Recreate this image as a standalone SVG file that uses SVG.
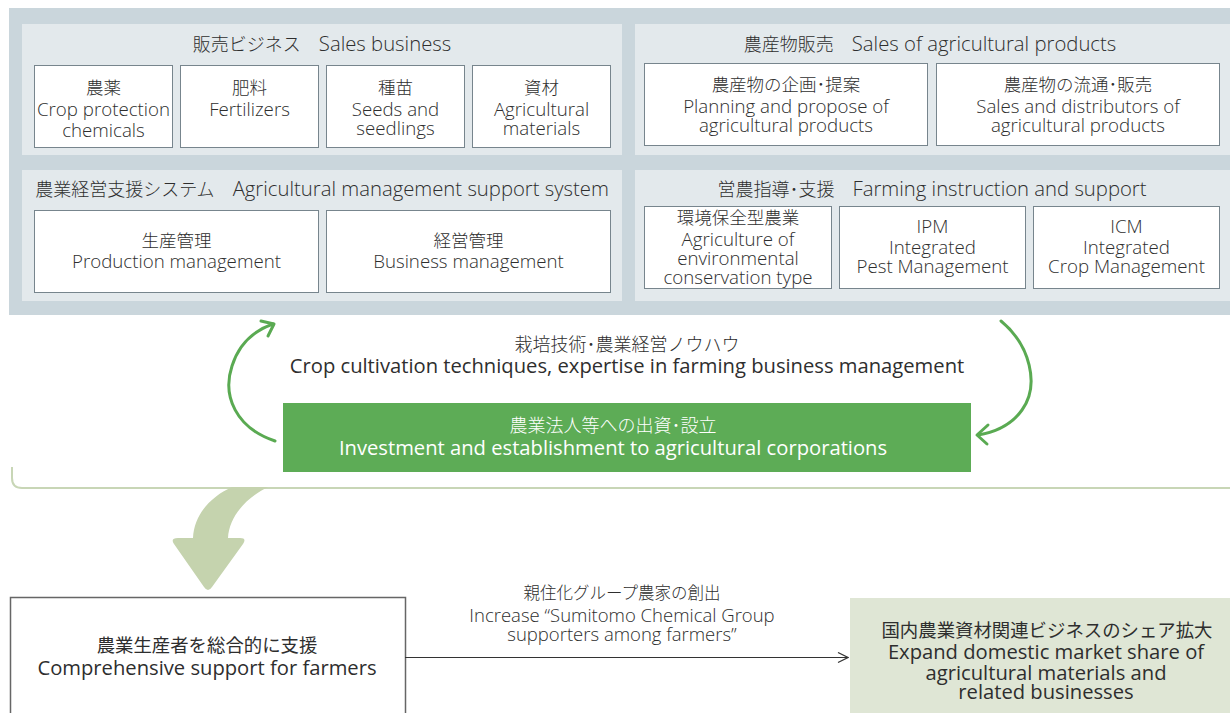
<svg xmlns="http://www.w3.org/2000/svg" width="1230" height="713" viewBox="0 0 1230 713">
<defs>
<style>
text{font-family:"Open Sans","Noto Sans CJK JP",sans-serif;fill:#2e2e2e;text-anchor:middle;font-weight:300}
.tj{font-size:18px}
.te{font-size:20.3px}
.bj{font-size:17.5px}
.be{font-size:18.7px}
.mj{font-size:18.4px;font-weight:400}
.me{font-size:20.2px;font-weight:400}
.kj{font-size:18px}
.sj{font-size:16.5px}
.se{font-size:18.5px}
.w{fill:#ffffff}
.panel{fill:#e3e9ec}
.box{fill:#ffffff;stroke:#77858d;stroke-width:1}
.garc{fill:none;stroke:#5aaa52;stroke-width:3;stroke-linecap:round;stroke-linejoin:round}
</style>
<marker id="open" viewBox="0 0 12 12" refX="11" refY="6" markerWidth="12" markerHeight="12" markerUnits="userSpaceOnUse" orient="auto">
<path d="M1,1 L11,6 L1,11" fill="none" stroke="#333" stroke-width="1.2"/>
</marker>
</defs>
<rect x="0" y="0" width="1230" height="713" fill="#ffffff"/>
<rect x="9" y="8" width="1221" height="307" fill="#cad6dc"/>

<g id="sales-business">
<rect class="panel" x="22" y="24" width="600" height="131"/>
<text x="322" y="51"><tspan class="tj">販売ビジネス　</tspan><tspan class="te">Sales business</tspan></text>
</g>
<g id="crop-protection">
<rect class="box" x="34.5" y="65.5" width="138" height="82"/>
<text class="bj" x="103.5" y="94">農薬</text>
<text class="be" x="103.5" y="116">Crop protection</text>
<text class="be" x="103.5" y="137">chemicals</text>
</g>
<g id="fertilizers">
<rect class="box" x="180.5" y="65.5" width="138" height="82"/>
<text class="bj" x="249.5" y="94">肥料</text>
<text class="be" x="249.5" y="116">Fertilizers</text>
</g>
<g id="seeds">
<rect class="box" x="326.5" y="65.5" width="138" height="82"/>
<text class="bj" x="395.5" y="94">種苗</text>
<text class="be" x="395.5" y="116">Seeds and</text>
<text class="be" x="395.5" y="135">seedlings</text>
</g>
<g id="materials">
<rect class="box" x="472.5" y="65.5" width="138" height="82"/>
<text class="bj" x="541.5" y="94">資材</text>
<text class="be" x="541.5" y="116">Agricultural</text>
<text class="be" x="541.5" y="135">materials</text>
</g>

<g id="sales-agri-products">
<rect class="panel" x="635" y="24" width="595" height="131"/>
<text x="930" y="51"><tspan class="tj">農産物販売　</tspan><tspan class="te">Sales of agricultural products</tspan></text>
</g>
<g id="planning">
<rect class="box" x="644.5" y="63.5" width="283" height="82"/>
<text class="bj" x="786" y="91">農産物の企画･提案</text>
<text class="be" x="786" y="113">Planning and propose of</text>
<text class="be" x="786" y="132">agricultural products</text>
</g>
<g id="distribution">
<rect class="box" x="936.5" y="63.5" width="283" height="82"/>
<text class="bj" x="1078" y="91">農産物の流通･販売</text>
<text class="be" x="1078" y="113">Sales and distributors of</text>
<text class="be" x="1078" y="132">agricultural products</text>
</g>

<g id="mgmt-support">
<rect class="panel" x="22" y="170" width="600" height="131"/>
<text x="322" y="196"><tspan class="tj">農業経営支援システム　</tspan><tspan class="te">Agricultural management support system</tspan></text>
</g>
<g id="production-mgmt">
<rect class="box" x="34.5" y="210.5" width="284" height="82"/>
<text class="bj" x="176.5" y="247">生産管理</text>
<text class="be" x="176.5" y="268">Production management</text>
</g>
<g id="business-mgmt">
<rect class="box" x="326.5" y="210.5" width="284" height="82"/>
<text class="bj" x="468.5" y="247">経営管理</text>
<text class="be" x="468.5" y="268">Business management</text>
</g>

<g id="farming-instruction">
<rect class="panel" x="635" y="170" width="595" height="131"/>
<text x="932" y="196"><tspan class="tj">営農指導･支援　</tspan><tspan class="te">Farming instruction and support</tspan></text>
</g>
<g id="env-agri">
<rect class="box" x="644.5" y="206.5" width="187" height="82"/>
<text class="bj" x="738" y="224">環境保全型農業</text>
<text class="be" x="738" y="246">Agriculture of</text>
<text class="be" x="738" y="265">environmental</text>
<text class="be" x="738" y="284">conservation type</text>
</g>
<g id="ipm">
<rect class="box" x="839.5" y="206.5" width="186" height="82"/>
<text class="be" x="932.5" y="233">IPM</text>
<text class="be" x="932.5" y="254">Integrated</text>
<text class="be" x="932.5" y="273">Pest Management</text>
</g>
<g id="icm">
<rect class="box" x="1033.5" y="206.5" width="186" height="82"/>
<text class="be" x="1126.5" y="233">ICM</text>
<text class="be" x="1126.5" y="254">Integrated</text>
<text class="be" x="1126.5" y="273">Crop Management</text>
</g>

<g id="knowhow">
<text class="kj" x="627" y="351">栽培技術･農業経営ノウハウ</text>
<text class="me" x="627" y="373">Crop cultivation techniques, expertise in farming business management</text>
</g>

<g id="investment">
<rect x="283" y="403" width="688" height="69" fill="#5dac56"/>
<text class="kj w" x="613" y="432">農業法人等への出資･設立</text>
<text class="me w" x="613" y="455">Investment and establishment to agricultural corporations</text>
</g>

<g id="frame">
<path d="M12,467 L12,478 Q12,488 22,488 L1230,488" fill="none" stroke="#c8d6b6" stroke-width="2"/>
</g>

<g id="farmers">
<rect x="10.5" y="597.5" width="395" height="130" fill="#ffffff" stroke="#666" stroke-width="1.5"/>
<text class="mj" x="207" y="652">農業生産者を総合的に支援</text>
<text class="me" x="207" y="675">Comprehensive support for farmers</text>
</g>

<g id="market-share">
<rect x="850" y="598" width="380" height="120" fill="#dfe6d5"/>
<text class="mj" x="1047" y="637">国内農業資材関連ビジネスのシェア拡大</text>
<text class="me" x="1046" y="659">Expand domestic market share of</text>
<text class="me" x="1046" y="680">agricultural materials and</text>
<text class="me" x="1046" y="699">related businesses</text>
</g>

<g id="connectors">
<path class="garc" d="M275,441 C236,428 222,396 232,366 C239,344 253,331 273,324"/>
<path class="garc" d="M261,321 L274,324 L268,336"/>
<path class="garc" d="M1001,321 C1030,345 1040,385 1022,410 C1012,424 996,432 978,435"/>
<path class="garc" d="M988,425 L977,435 L987,444"/>
<path d="M232,487 C210,497 194,515 193,538 L178,538 Q170,538 174,544 L204,587 Q208,593 212,587 L243,544 Q247,538 240,538 L228,538 C229,518 244,499 268,487 Z" fill="#c5d3ae"/>
<line x1="405" y1="657.5" x2="848" y2="657.5" stroke="#333" stroke-width="1" marker-end="url(#open)"/>
<text class="sj" x="622" y="599">親住化グループ農家の創出</text>
<text class="se" x="622" y="622">Increase “Sumitomo Chemical Group</text>
<text class="se" x="622" y="641">supporters among farmers”</text>
</g>
</svg>
